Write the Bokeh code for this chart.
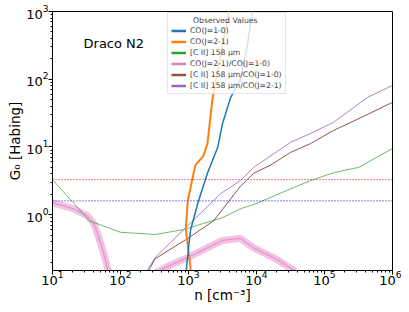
from bokeh.plotting import figure
from bokeh.models import Span, Legend, LegendItem, Range1d
from bokeh.core.properties import value
from bokeh.embed import file_html
from bokeh.resources import INLINE

# ---- data (n in cm^-3, G0 in Habing) ----
co10_n = [912, 1000, 1070, 1410, 1900, 2700, 3160, 4170, 5750, 7410, 8710, 9800]
co10_g = [0.126, 0.32, 0.59, 1.62, 4.1, 10.0, 22.0, 54.0, 95.0, 340.0, 1030.0, 1450.0]

co21_n = [1070, 1070, 912, 977, 1260, 1660, 1900, 2240, 2750, 3720, 4170]
co21_g = [0.126, 0.166, 0.62, 1.62, 5.4, 7.4, 11.2, 49.0, 148.0, 741.0, 1450.0]

cii_n = [10, 35, 100, 320, 830, 3200, 5900, 9800, 23000, 63000, 140000, 320000, 390000, 1000000]
cii_g = [3.3, 0.81, 0.55, 0.51, 0.60, 0.91, 1.23, 1.45, 2.1, 3.2, 4.2, 5.0, 5.6, 9.5]

r21_a_n = [10, 20, 32, 40, 46, 55, 66, 69]
r21_a_g = [1.5, 1.23, 0.98, 0.76, 0.52, 0.30, 0.15, 0.11]
r21_b_n = [275, 457, 977, 3160, 5750, 9120, 19000, 37000]
r21_b_g = [0.126, 0.166, 0.234, 0.417, 0.447, 0.324, 0.224, 0.148]

cii_co10_n = [234, 275, 324, 977, 2340, 5750, 9120, 16200, 31600, 62000, 135000, 340000, 930000, 1000000]
cii_co10_g = [0.126, 0.166, 0.224, 0.447, 0.81, 2.6, 4.1, 5.4, 8.3, 11.2, 17.5, 27.0, 44.0, 45.0]

cii_co21_n = [234, 275, 324, 1510, 2950, 5750, 9120, 31600, 62000, 135000, 430000, 1000000]
cii_co21_g = [0.138, 0.178, 0.234, 1.05, 2.04, 3.16, 5.0, 11.7, 15.8, 23.0, 54.0, 81.0]

g0_red = 3.3
g0_blue = 1.6

label_text = "Draco N2"
label_pos = (28.6, 337.0)
legend_title = "Observed Values"

FONT = "DejaVu Sans"

p = figure(frame_width=340, frame_height=259, x_axis_type="log", y_axis_type="log",
           x_range=Range1d(10, 1e6), y_range=Range1d(0.15, 1000),
           output_backend="svg", toolbar_location=None,
           min_border_left=52, min_border_right=9, min_border_top=11, min_border_bottom=30)
p.xgrid.visible = False
p.ygrid.visible = False
p.outline_line_color = "black"
p.outline_line_width = 1
p.background_fill_color = "white"
p.border_fill_color = "white"

for ax in (p.xaxis[0], p.yaxis[0]):
    ax.major_label_text_font = FONT
    ax.major_label_text_font_size = "13px"
    ax.major_label_text_color = "black"
    ax.axis_label_text_font = FONT
    ax.axis_label_text_font_size = "13.5px"
    ax.axis_label_text_font_style = "normal"
    ax.axis_label_text_color = "black"
    ax.major_tick_in = 0
    ax.major_tick_out = 4
    ax.minor_tick_in = 0
    ax.minor_tick_out = 2
    ax.axis_line_color = "black"
    ax.major_tick_line_color = "black"
    ax.minor_tick_line_color = "black"
    ax.major_label_standoff = 0
    ax.axis_label_standoff = 0
p.xaxis[0].major_label_standoff = -4
p.xaxis[0].axis_label_standoff = -1

p.xaxis.axis_label = "n [cm\u207b\u00b3]"
p.yaxis.axis_label = "G\u2080 [Habing]"

# dotted horizontal lines
p.add_layout(Span(location=g0_red, dimension="width", line_color="#ff0000",
                  line_dash="1 2", line_width=1))
p.add_layout(Span(location=g0_blue, dimension="width", line_color="#0000ff",
                  line_dash="1 2", line_width=1))

# pink ratio curve (thick translucent + thin)
pink = "#e377c2"
for nn, gg in ((r21_a_n, r21_a_g), (r21_b_n, r21_b_g)):
    p.line(nn, gg, line_color=pink, line_width=7, line_alpha=0.45)
for nn, gg in ((r21_a_n, r21_a_g), (r21_b_n, r21_b_g)):
    p.line(nn, gg, line_color=pink, line_width=1, line_alpha=0.8)

p.line(cii_n, cii_g, line_color="#2ca02c", line_width=1, line_alpha=0.7)
p.line(cii_co10_n, cii_co10_g, line_color="#8c564b", line_width=1)
p.line(cii_co21_n, cii_co21_g, line_color="#9467bd", line_width=1, line_alpha=0.8)
p.line(co21_n, co21_g, line_color="#ff7f0e", line_width=2)
p.line(co10_n, co10_g, line_color="#1f77b4", line_width=1.5)

p.text(x=[label_pos[0]], y=[label_pos[1]], text=[label_text],
       text_font=value(FONT), text_font_size="13px", text_baseline="middle",
       text_align="left", text_color="black")

# legend proxies (thicker lines)
proxies = []
for c in ["#1f77b4", "#ff7f0e", "#2ca02c", "#e377c2", "#8c564b", "#9467bd"]:
    proxies.append(p.line([10], [1], line_color=c, line_width=2.5, visible=False))
labels = ["CO(J=1-0)", "CO(J=2-1)", "[C II] 158 \u03bcm", "CO(J=2-1)/CO(J=1-0)",
          "[C II] 158 \u03bcm/CO(J=1-0)", "[C II] 158 \u03bcm/CO(J=2-1)"]
legend = Legend(items=[LegendItem(label=l, renderers=[r]) for l, r in zip(labels, proxies)],
                location=(115, 176), title="\u00a0" * 9 + legend_title,
                title_text_font=FONT, title_text_font_size="7.7px", title_text_font_style="normal",
                label_text_font=FONT, label_text_font_size="7.7px",
                glyph_width=15, glyph_height=9, label_height=9, spacing=2,
                padding=3, margin=0, title_standoff=1, label_standoff=4,
                border_line_color="#cccccc", border_line_width=1,
                background_fill_alpha=0.8)
p.add_layout(legend)

open("out.html", "w").write(file_html(p, INLINE))
